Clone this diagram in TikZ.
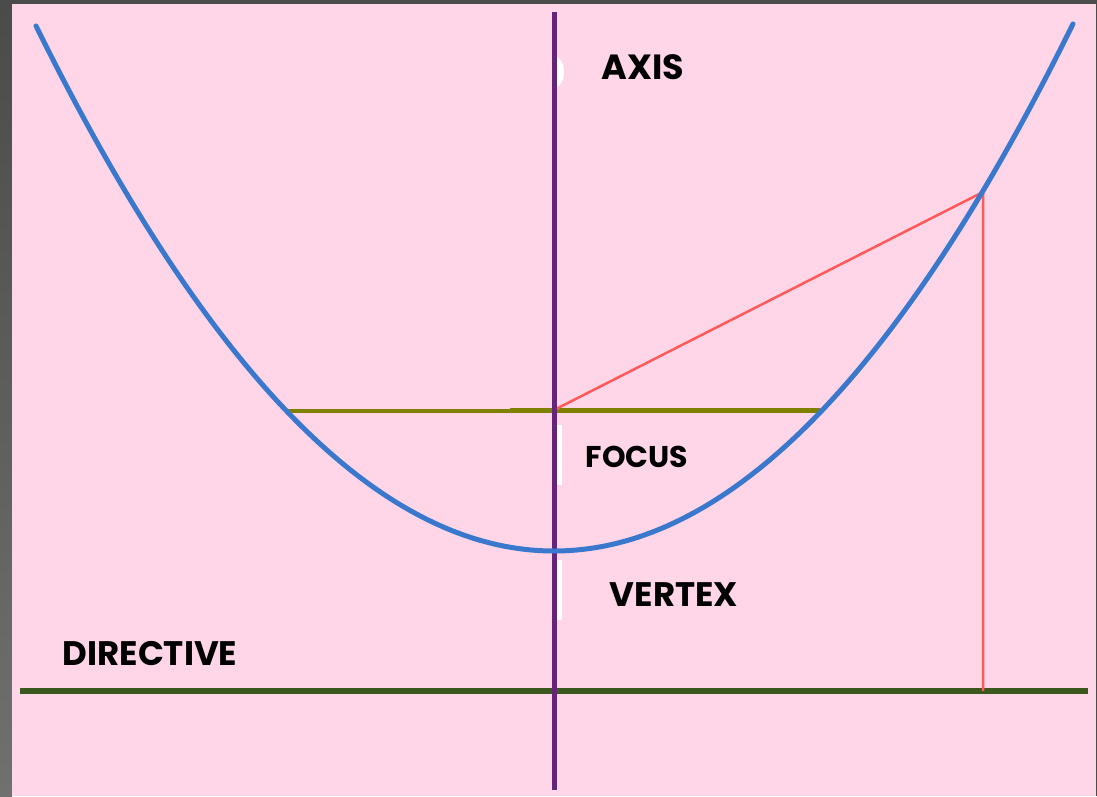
\documentclass[tikz,border=0pt]{standalone}
\usepackage{fontspec}
\newfontfamily\lblfont{Poppins}
\definecolor{bgpink}{RGB}{255,214,232}
\definecolor{frame}{RGB}{75,75,75}
\definecolor{framelo}{RGB}{112,112,112}
\definecolor{parab}{RGB}{58,120,205}
\definecolor{axiscol}{RGB}{100,36,120}
\definecolor{olive}{RGB}{128,128,0}
\definecolor{dgreen}{RGB}{58,88,30}
\definecolor{redline}{RGB}{255,90,90}
\tikzset{
  lbl/.style={anchor=base, inner sep=0pt, font=\lblfont\bfseries},
  gap/.style={fill=white, draw=none},
}
\begin{document}
\begin{tikzpicture}[x=1pt,y=-1pt]
\useasboundingbox (0,0) rectangle (1097,796);
% frame and background
\fill[frame] (0,0) rectangle (1097,796);
\shade[top color=frame, bottom color=framelo] (0,4) rectangle (12,796);
\fill[bgpink] (12,4) rectangle (1096,796);
% key points
\coordinate (V) at (554,551);
\coordinate (F) at (554,410);
\coordinate (P) at (983,192);
\coordinate (Q) at (983,691);
\coordinate (L) at (287,410);
\coordinate (R) at (820,410);
\coordinate (Atop) at (554,12);
\coordinate (Abot) at (554,790);
\coordinate (Dl) at (20,691);
\coordinate (Dr) at (1088,691);
% directrix
\draw[dgreen, line width=6pt] (Dl) -- (Dr);
% latus rectum
\draw[olive, line width=5pt] (L) -- (R);
\fill[bgpink] (284,378) rectangle (510,409.3);
% red lines
\draw[redline, line width=2.5pt] (F) -- (P) -- (Q);
% white gaps
\fill[gap] (554,425) rectangle (562,485);
\fill[gap] (554,560) rectangle (562,620);
\fill[gap] (554,88) arc[start angle=90, end angle=-90, x radius=10, y radius=16] -- cycle;
% axis
\draw[axiscol, line width=5pt] (Atop) -- (Abot);
% parabola
\draw[parab, line width=5pt, line cap=round] plot[domain=36:1073, samples=120, smooth] (\x,{551-19.57*((\x-554)/100)^2});
% labels
\node[lbl, font=\lblfont\bfseries\fontsize{35}{35}\selectfont] (axis) at (643,79.5) {AXIS};
\node[lbl, font=\lblfont\bfseries\fontsize{30}{30}\selectfont] (focus) at (637,467) {FOCUS};
\node[lbl, font=\lblfont\bfseries\fontsize{34}{34}\selectfont] (vertex) at (674,606.5) {VERTEX};
\node[lbl, font=\lblfont\bfseries\fontsize{34}{34}\selectfont] (dir) at (150,665.5) {DIRECTIVE};
\end{tikzpicture}
\end{document}
